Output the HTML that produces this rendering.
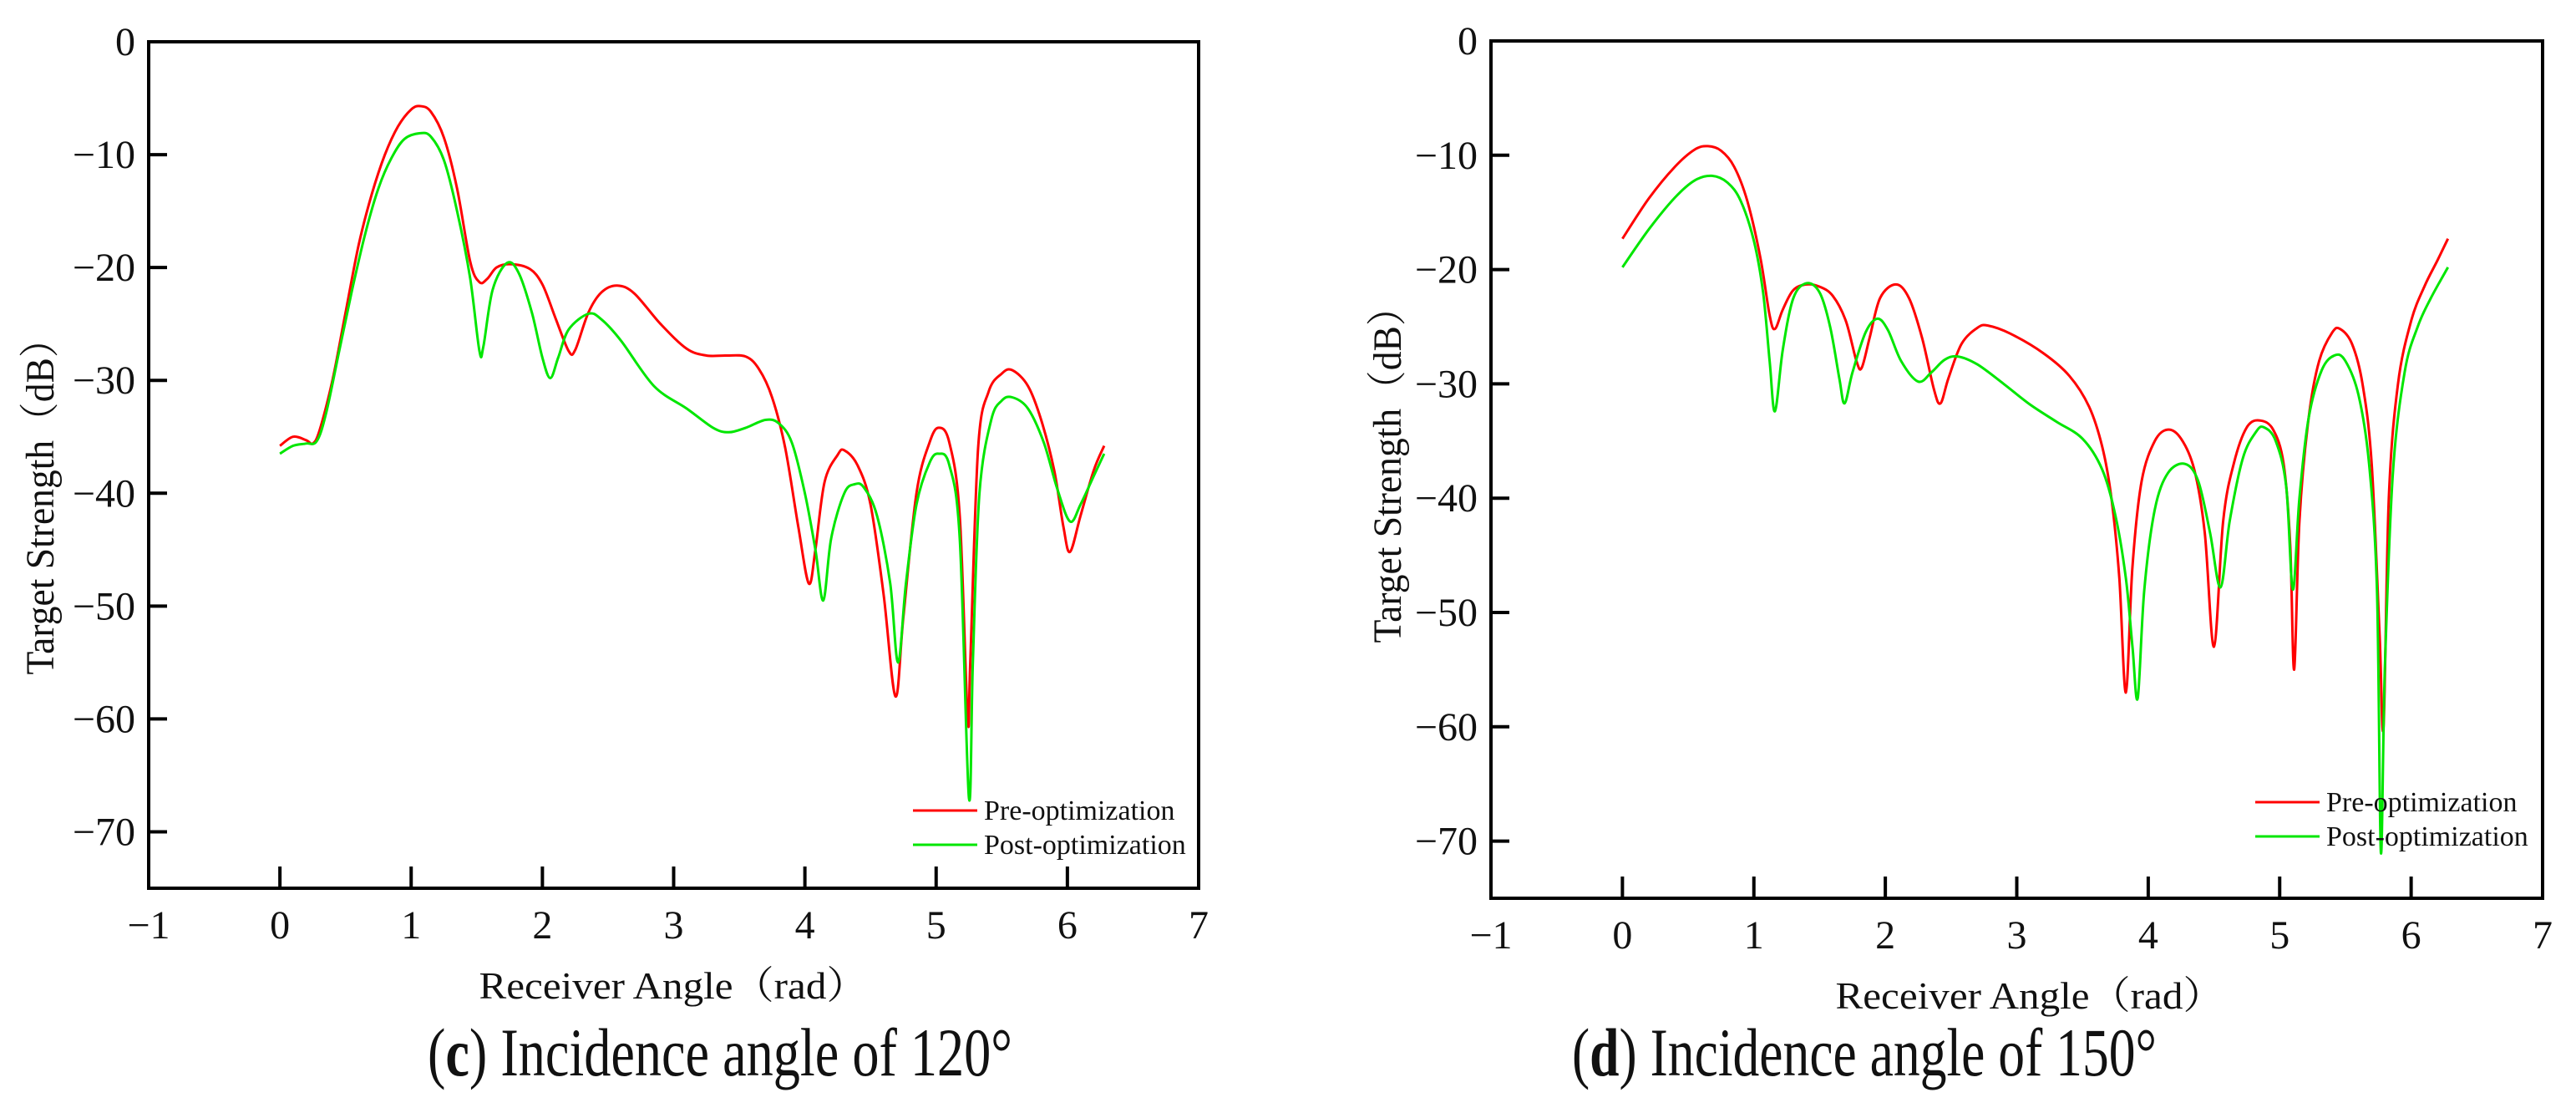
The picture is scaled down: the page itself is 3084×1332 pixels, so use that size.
<!DOCTYPE html>
<html><head><meta charset="utf-8">
<style>
html,body{margin:0;padding:0;background:#fff;}
svg{display:block;}
text{font-family:"Liberation Serif","Noto Serif CJK SC",serif;fill:#111;}
</style></head>
<body>
<svg id="fig" width="3084" height="1332" viewBox="0 0 3084 1332" xmlns="http://www.w3.org/2000/svg"></svg>
<script>
// ---- Chart (c): incidence 120° ----
const xTicks = [-1,0,1,2,3,4,5,6,7];
const yTicks = [0,-10,-20,-30,-40,-50,-60,-70];
const seriesNames = ["Pre-optimization","Post-optimization"];

const preCX = [0,0.1,0.2,0.25,0.3,0.4,0.5,0.6,0.7,0.8,0.9,1.0,1.07,1.15,1.25,1.35,1.45,1.52,1.58,1.65,1.75,1.9,2.0,2.1,2.2,2.25,2.35,2.45,2.57,2.7,2.9,3.1,3.25,3.4,3.55,3.65,3.75,3.85,3.95,4.03,4.08,4.15,4.25,4.3,4.4,4.5,4.6,4.69,4.75,4.85,4.95,5.02,5.1,5.18,5.24,5.26,5.32,5.4,5.5,5.58,5.7,5.8,5.9,5.97,6.02,6.1,6.2,6.28];
const preCY = [-35.8,-35.0,-35.3,-35.6,-34.5,-30,-24,-18,-13.5,-10,-7.5,-6.0,-5.7,-6.2,-8.5,-13,-19.5,-21.3,-21.0,-20,-19.7,-20.1,-21.5,-24.5,-27.4,-27.3,-24,-22.2,-21.6,-22.3,-25,-27.2,-27.8,-27.8,-27.9,-29,-31.5,-36,-43,-48,-45,-39,-36.6,-36.2,-37.5,-41,-49,-58,-51,-40,-35.5,-34.2,-35.5,-42,-60,-55,-36,-31,-29.4,-29.1,-30.5,-33.5,-38,-43,-45.2,-42,-38,-35.8];
const postCX = [0,0.1,0.2,0.28,0.35,0.45,0.55,0.65,0.75,0.85,0.95,1.07,1.15,1.25,1.35,1.45,1.52,1.55,1.62,1.73,1.82,1.92,2.0,2.06,2.12,2.2,2.35,2.45,2.6,2.85,3.1,3.3,3.42,3.55,3.7,3.8,3.9,4.0,4.08,4.14,4.2,4.3,4.38,4.45,4.55,4.65,4.71,4.77,4.85,4.95,5.02,5.1,5.18,5.25,5.28,5.33,5.42,5.5,5.58,5.7,5.82,5.92,6.02,6.1,6.2,6.28];
const postCY = [-36.5,-35.8,-35.6,-35.4,-33,-27.5,-22,-17,-13,-10.3,-8.6,-8.1,-8.4,-10.5,-15,-21,-27.4,-27,-22,-19.6,-20.5,-24,-28,-29.8,-28,-25.5,-24.1,-24.6,-26.5,-30.5,-32.5,-34.2,-34.6,-34.2,-33.5,-33.8,-35.5,-40,-45,-49.5,-44,-40,-39.2,-39.5,-42,-48,-55,-48,-41,-37.3,-36.5,-37.5,-44,-67,-55,-40,-33.5,-31.8,-31.5,-32.5,-35.5,-39.5,-42.5,-41,-38.5,-36.5];

// ---- Chart (d): incidence 150° ----
const preDX = [0,0.2,0.4,0.55,0.65,0.75,0.85,0.95,1.05,1.12,1.16,1.22,1.3,1.4,1.5,1.6,1.7,1.78,1.82,1.88,1.96,2.08,2.18,2.28,2.37,2.42,2.48,2.58,2.7,2.78,2.95,3.2,3.4,3.55,3.65,3.72,3.78,3.83,3.88,3.95,4.05,4.15,4.25,4.35,4.43,4.5,4.57,4.65,4.75,4.85,4.95,5.03,5.08,5.11,5.15,5.22,5.3,5.4,5.46,5.55,5.63,5.7,5.76,5.79,5.83,5.9,6.0,6.1,6.2,6.28];
const preDY = [-17.3,-13.8,-11,-9.5,-9.2,-9.6,-11,-14,-19,-24,-25.2,-23.5,-21.8,-21.3,-21.5,-22.3,-24.5,-28,-28.6,-26,-22.5,-21.3,-22.5,-26,-30.5,-31.7,-29.5,-26.5,-25.1,-24.9,-25.6,-27.3,-29.3,-32,-35.5,-40,-47,-57,-46,-38.5,-35,-34,-34.8,-37.5,-43,-53,-42,-37,-33.8,-33.2,-34,-37,-44,-55,-42,-33,-28,-25.5,-25.2,-26.5,-30,-37,-52,-60,-40,-30,-24.5,-21.5,-19.2,-17.3];
const postDX = [0,0.2,0.4,0.55,0.68,0.8,0.9,1.0,1.07,1.12,1.16,1.22,1.3,1.4,1.5,1.58,1.65,1.69,1.75,1.85,1.94,2.02,2.12,2.25,2.35,2.45,2.55,2.7,2.9,3.1,3.3,3.5,3.65,3.75,3.83,3.88,3.92,3.97,4.05,4.15,4.28,4.38,4.47,4.55,4.62,4.72,4.82,4.88,4.97,5.05,5.1,5.15,5.22,5.32,5.42,5.5,5.6,5.68,5.74,5.77,5.8,5.86,5.95,6.05,6.15,6.28];
const postDY = [-19.8,-16.5,-13.7,-12.2,-11.8,-12.4,-14,-17.5,-22,-28,-32.4,-27,-22.5,-21.2,-22,-25,-29.5,-31.7,-29,-25.5,-24.3,-25.3,-28,-29.8,-29,-27.9,-27.6,-28.3,-30,-31.8,-33.3,-34.8,-37.5,-41.5,-47,-53,-57.5,-48,-41,-37.8,-37,-38.5,-43,-47.8,-42,-36.5,-34.2,-33.8,-35,-39,-48,-40,-33,-28.8,-27.5,-28,-31,-37,-48,-71,-55,-38,-29,-25,-22.5,-19.8];

const NS = "http://www.w3.org/2000/svg";
const svg = document.getElementById('fig');
function mk(tag, attrs, parent){
  const e = document.createElementNS(NS, tag);
  for (const k in attrs) e.setAttribute(k, attrs[k]);
  (parent||svg).appendChild(e);
  return e;
}
function smoothPath(pts){
  let d = 'M' + pts[0][0].toFixed(1) + ',' + pts[0][1].toFixed(1);
  for (let i = 0; i < pts.length - 1; i++){
    const p0 = pts[Math.max(0,i-1)], p1 = pts[i], p2 = pts[i+1], p3 = pts[Math.min(pts.length-1,i+2)];
    const c1x = p1[0] + (p2[0]-p0[0])/6, c1y = p1[1] + (p2[1]-p0[1])/6;
    const c2x = p2[0] - (p3[0]-p1[0])/6, c2y = p2[1] - (p3[1]-p1[1])/6;
    d += 'C' + c1x.toFixed(1) + ',' + c1y.toFixed(1) + ' ' + c2x.toFixed(1) + ',' + c2y.toFixed(1) + ' ' + p2[0].toFixed(1) + ',' + p2[1].toFixed(1);
  }
  return d;
}

function drawChart(cfg){
  const g = mk('g', {});
  
  
  const L=cfg.left, R=cfg.right, T=cfg.top, B=cfg.bottom;
  const sx = v => L + (v - (-1)) / 8 * (R - L);
  const sy = v => T + (0 - v) / 75 * (B - T);

  const series = [[cfg.preX, cfg.preY, '#ff0000', 'pre-optimization-line'],
                  [cfg.postX, cfg.postY, '#00e600', 'post-optimization-line']];
  series.forEach(s => {
    const pts = s[0].map((x,i) => [sx(x), sy(s[1][i])]);
    const p = mk('path', {d:smoothPath(pts), fill:'none', stroke:s[2], 'stroke-width':3, 'stroke-linejoin':'round'}, g);
    
    
  });

  const fr = mk('rect', {x:L, y:T, width:R-L, height:B-T, fill:'none', stroke:'#000', 'stroke-width':4}, g);
  
  

  xTicks.forEach(v => {
    const x = sx(v);
    if (v > -1 && v < 7) mk('line', {x1:x, x2:x, y1:B, y2:B-26, stroke:'#000', 'stroke-width':4}, g);
    const t = mk('text', {x:x, y:B+60, 'font-size':48, 'text-anchor':'middle'}, g);
    t.textContent = v < 0 ? '\u2212' + Math.abs(v) : String(v);
    
    
  });
  yTicks.forEach(v => {
    const y = sy(v);
    if (v < 0) mk('line', {x1:L, x2:L+22, y1:y, y2:y, stroke:'#000', 'stroke-width':4}, g);
    const t = mk('text', {x:L-16, y:y+16, 'font-size':48, 'text-anchor':'end'}, g);
    t.textContent = v < 0 ? '\u2212' + Math.abs(v) : String(v);
    
    
  });

  const xt = mk('text', {x:cfg.xtX, y:B+132, 'font-size':46, 'text-anchor':'middle', textLength:465, lengthAdjust:'spacingAndGlyphs'}, g);
  xt.textContent = 'Receiver Angle\uFF08rad\uFF09';
  
  
  const yt = mk('text', {x:0, y:0, 'font-size':48, 'text-anchor':'middle', textLength:425, lengthAdjust:'spacingAndGlyphs',
    transform:'translate(' + cfg.ytX + ',' + cfg.ytY + ') rotate(-90)'}, g);
  yt.textContent = 'Target Strength\uFF08dB\uFF09';
  
  

  const lg = mk('g', {}, g);
  
  
  [[seriesNames[0], '#ff0000', cfg.legY1], [seriesNames[1], '#00e600', cfg.legY2]].forEach((it, i) => {
    mk('line', {x1:L+cfg.legDX, x2:L+cfg.legDX+77, y1:it[2], y2:it[2], stroke:it[1], 'stroke-width':3}, lg);
    const t = mk('text', {x:L+cfg.legDX+85, y:it[2]+11, 'font-size':34}, lg);
    t.textContent = it[0];
    
    
  });

  const cap = mk('text', {x:cfg.capX, y:1287, 'font-size':82, 'text-anchor':'middle', textLength:700, lengthAdjust:'spacingAndGlyphs'}, g);
  
  
  const a = mk('tspan', {}, cap); a.textContent = '(';
  const b = mk('tspan', {'font-weight':'bold'}, cap); b.textContent = cfg.letter;
  const c = mk('tspan', {}, cap); c.textContent = ') Incidence angle of ' + cfg.angle + '\u00B0';
}

drawChart({name:'chart-120-deg', left:178, right:1435, top:50, bottom:1063,
  preX:preCX, preY:preCY, postX:postCX, postY:postCY,
  xtX:806, ytX:64, ytY:595, legDX:915, legY1:970, legY2:1011, capX:862, letter:'c', angle:120});
drawChart({name:'chart-150-deg', left:1785, right:3044, top:49, bottom:1075,
  preX:preDX, preY:preDY, postX:postDX, postY:postDY,
  xtX:2430, ytX:1677, ytY:557, legDX:915, legY1:960, legY2:1001, capX:2232, letter:'d', angle:150});
</script>
</body></html>
